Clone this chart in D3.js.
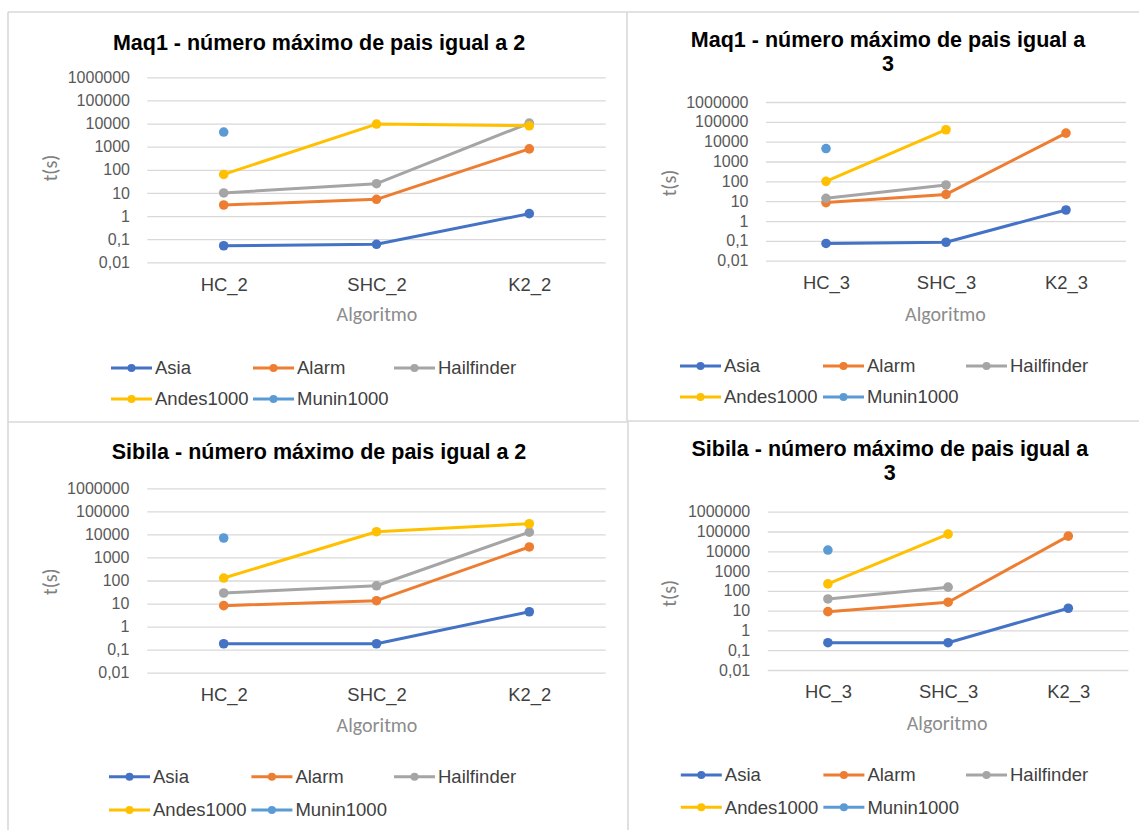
<!DOCTYPE html>
<html>
<head>
<meta charset="utf-8">
<script src="https://cdn.jsdelivr.net/npm/d3@7"></script>
<style>
  body { margin: 0; background: #fff; }
  svg { display: block; }
</style>
</head>
<body>
<div id="chart"></div>
<script>
// categories / series
var categories2 = ["HC_2", "SHC_2", "K2_2"];
var categories3 = ["HC_3", "SHC_3", "K2_3"];
var seriesNames = ["Asia", "Alarm", "Hailfinder", "Andes1000", "Munin1000"];
var seriesColors = ["#4472C4", "#ED7D31", "#A5A5A5", "#FFC000", "#5B9BD5"];

// y ticks (log scale)
var yTickValues = [0.01, 0.1, 1, 10, 100, 1000, 10000, 100000, 1000000];
var yTickLabels = ["0,01", "0,1", "1", "10", "100", "1000", "10000", "100000", "1000000"];

// t(s) per series (Asia, Alarm, Hailfinder, Andes1000, Munin1000), null = no value
var maq1Pais2 = [
    [0.052, 0.06, 1.27],
    [3, 5.3, 800],
    [10, 25, 10500],
    [63, 9500, 8000],
    [4300, null, null]
];
var maq1Pais3 = [
    [0.074, 0.085, 3.6],
    [8.5, 22, 27000],
    [14, 66, null],
    [100, 40000, null],
    [4500, null, null]
];
var sibilaPais2 = [
    [0.18, 0.18, 4.4],
    [8.1, 13.3, 2850],
    [28.7, 59, 12500],
    [128, 13100, 29000],
    [6970, null, null]
];
var sibilaPais3 = [
    [0.24, 0.24, 13.2],
    [8.9, 26.7, 58500],
    [39, 154, null],
    [225, 74000, null],
    [11500, null, null]
];

var titleMaq1Pais2 = ["Maq1 - número máximo de pais igual a 2"];
var titleMaq1Pais3 = ["Maq1 - número máximo de pais igual a", "3"];
var titleSibilaPais2 = ["Sibila - número máximo de pais igual a 2"];
var titleSibilaPais3 = ["Sibila - número máximo de pais igual a", "3"];

var calibriLike = "Carlito, Lato, 'Open Sans', sans-serif";
var arialLike = "'Liberation Sans', Arial, sans-serif";

function drawPanel(svg, cfg, cats, data, titleLines) {
    var g = svg.append("g");

    var x = d3.scalePoint()
              .domain(cats)
              .range([cfg.gridLeft, cfg.gridRight])
              .padding(0.5);

    var y = d3.scaleLog()
              .domain([0.01, 1000000])
              .range([cfg.yBottom, cfg.yTop]);

    // gridlines
    var grid = g.append("g")
                .attr("transform", "translate(" + cfg.gridLeft + ",0)")
                .call(d3.axisLeft(y)
                        .tickValues(yTickValues)
                        .tickSize(-(cfg.gridRight - cfg.gridLeft))
                        .tickFormat(""));
    grid.select(".domain").remove();
    grid.selectAll("line").attr("stroke", "#d9d9d9").attr("stroke-width", 1.3);

    // y tick labels
    var yAxis = g.append("g")
                 .attr("transform", "translate(" + cfg.tickRight + ",0)")
                 .call(d3.axisLeft(y)
                         .tickValues(yTickValues)
                         .tickSize(0)
                         .tickPadding(0)
                         .tickFormat(function(d, i) { return yTickLabels[i]; }));
    yAxis.select(".domain").remove();
    yAxis.selectAll("text")
         .attr("fill", "#595959")
         .style("font-family", arialLike)
         .style("font-size", "16px");

    // x tick labels
    var xAxis = g.append("g")
                 .attr("transform", "translate(0," + cfg.catY + ")")
                 .call(d3.axisBottom(x).tickSize(0).tickPadding(0));
    xAxis.select(".domain").remove();
    xAxis.selectAll("text")
         .attr("dy", "0.35em")
         .attr("fill", "#404040")
         .style("font-family", arialLike)
         .style("font-size", "18.4px");

    // title
    g.append("text")
     .attr("x", cfg.titleX)
     .attr("text-anchor", "middle")
     .style("font-family", arialLike)
     .style("font-weight", "bold")
     .style("font-size", "21.5px")
     .attr("fill", "#000")
     .selectAll("tspan")
     .data(titleLines)
     .enter()
     .append("tspan")
     .attr("x", cfg.titleX)
     .attr("y", function(d, i) { return cfg.titleY + i * 24; })
     .attr("dy", "0.35em")
     .text(function(d) { return d; });

    // axis titles
    g.append("text")
     .attr("x", cfg.xTitle[0])
     .attr("y", cfg.xTitle[1])
     .attr("dy", "0.35em")
     .attr("text-anchor", "middle")
     .attr("fill", "#8c8c8c")
     .style("font-family", calibriLike)
     .style("font-size", "20px")
     .text("Algoritmo");

    g.append("text")
     .attr("transform", "translate(" + cfg.yTitle[0] + "," + cfg.yTitle[1] + ") rotate(-90)")
     .attr("dy", "0.35em")
     .attr("text-anchor", "middle")
     .attr("fill", "#808080")
     .style("font-family", calibriLike)
     .style("font-size", "20px")
     .text("t(s)");

    // series lines + markers
    var line = d3.line()
                 .defined(function(d) { return d != null; })
                 .x(function(d, i) { return x(cats[i]); })
                 .y(function(d) { return y(d); });

    data.forEach(function(values, s) {
        g.append("path")
         .datum(values)
         .attr("d", line)
         .attr("fill", "none")
         .attr("stroke", seriesColors[s])
         .attr("stroke-width", 3)
         .attr("stroke-linejoin", "round")
         .attr("stroke-linecap", "round");

        g.selectAll(null)
         .data(values.map(function(v, i) { return { v: v, c: cats[i] }; })
                     .filter(function(d) { return d.v != null; }))
         .enter()
         .append("circle")
         .attr("cx", function(d) { return x(d.c); })
         .attr("cy", function(d) { return y(d.v); })
         .attr("r", 4.8)
         .attr("fill", seriesColors[s]);
    });

    // legend
    seriesNames.forEach(function(name, s) {
        var lx = cfg.legendCols[s % 3];
        var ly = cfg.legendRows[Math.floor(s / 3)];
        g.append("line")
         .attr("x1", lx).attr("x2", lx + 41)
         .attr("y1", ly).attr("y2", ly)
         .attr("stroke", seriesColors[s])
         .attr("stroke-width", 3);
        g.append("circle")
         .attr("cx", lx + 20.5)
         .attr("cy", ly)
         .attr("r", 4)
         .attr("fill", seriesColors[s]);
        g.append("text")
         .attr("x", lx + 44)
         .attr("y", ly)
         .attr("dy", "0.35em")
         .attr("fill", "#404040")
         .style("font-family", arialLike)
         .style("font-size", "18.5px")
         .text(name);
    });
}

function init() {
    var w = 1139;
    var h = 830;

    var svg = d3.select("#chart")
                .append("svg")
                .attr("width", w)
                .attr("height", h);

    svg.append("rect").attr("width", w).attr("height", h).attr("fill", "#fff");

    // chart box borders (spreadsheet screenshot)
    var borders = [
        [8, 12, 1139, 12],
        [8, 12, 8, 830],
        [627, 12, 627, 421],
        [628, 421, 628, 830],
        [8, 422, 627, 422],
        [627, 421, 1139, 421]
    ];
    svg.selectAll("line.border")
       .data(borders)
       .enter()
       .append("line")
       .attr("class", "border")
       .attr("x1", function(d) { return d[0]; })
       .attr("y1", function(d) { return d[1]; })
       .attr("x2", function(d) { return d[2]; })
       .attr("y2", function(d) { return d[3]; })
       .attr("stroke", "#d9d9d9")
       .attr("stroke-width", 1.6);

    drawPanel(svg, {
        gridLeft: 147.3, gridRight: 605.7, yTop: 77.3, yBottom: 262.3,
        tickRight: 130, catY: 285, titleX: 319, titleY: 42,
        xTitle: [377, 314], yTitle: [50, 168],
        legendCols: [111, 253, 394], legendRows: [368, 399]
    }, categories2, maq1Pais2, titleMaq1Pais2);

    drawPanel(svg, {
        gridLeft: 766, gridRight: 1126, yTop: 102, yBottom: 260.7,
        tickRight: 748.5, catY: 283, titleX: 888, titleY: 39.3,
        xTitle: [945.5, 314], yTitle: [669, 183],
        legendCols: [680, 823, 966], legendRows: [366, 397]
    }, categories3, maq1Pais3, titleMaq1Pais3);

    drawPanel(svg, {
        gridLeft: 147.3, gridRight: 605.7, yTop: 488.3, yBottom: 672.7,
        tickRight: 129.4, catY: 695, titleX: 319, titleY: 451,
        xTitle: [377, 725], yTitle: [50, 581.7],
        legendCols: [109, 251.4, 394], legendRows: [776.7, 810]
    }, categories2, sibilaPais2, titleSibilaPais2);

    drawPanel(svg, {
        gridLeft: 767.8, gridRight: 1128.4, yTop: 511.7, yBottom: 670,
        tickRight: 750.2, catY: 691.7, titleX: 889.8, titleY: 448.3,
        xTitle: [947.2, 723.3], yTitle: [669, 593.3],
        legendCols: [680.8, 823.4, 966], legendRows: [775, 807.3]
    }, categories3, sibilaPais3, titleSibilaPais3);
}

window.onload = init;
</script>
</body>
</html>
